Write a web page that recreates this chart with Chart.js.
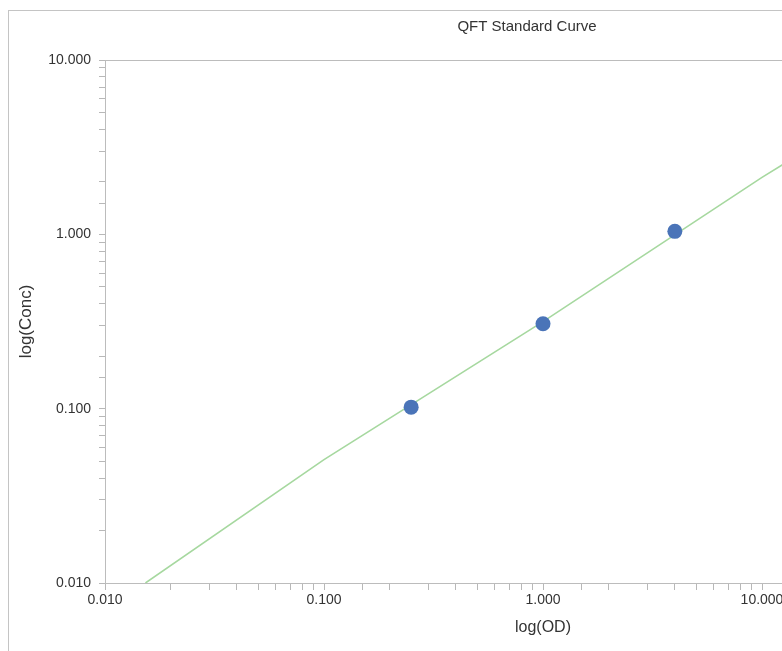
<!DOCTYPE html>
<html>
<head>
<meta charset="utf-8">
<script src="https://cdn.jsdelivr.net/npm/chart.js@4.4.1/dist/chart.umd.min.js"></script>
<style>
  html, body { margin: 0; padding: 0; overflow: hidden; background: #fff; }
  body { width: 782px; height: 651px; position: relative; }
  #frame { position: absolute; left: 8px; top: 10px; width: 1100px; height: 800px; border: 1px solid #c4c4c4; }
  #wrap { position: absolute; left: 0; top: 0; width: 1020px; height: 651px; }
</style>
</head>
<body>
<div id="frame"></div>
<div id="wrap"><canvas id="myChart" width="1020" height="651"></canvas></div>
<script>
// standards (blue dots)
const standardOD = [0.25, 1.0, 4.0];
const standardConc = [0.102, 0.307, 1.04];

// fitted curve (green line)
const fitOD = [0.0153, 0.1, 1.0, 10.0, 13.0];
const fitConc = [0.01, 0.051, 0.316, 2.12, 2.6];

// decade tick labels
const xDecades = [0.01, 0.1, 1, 10, 100];
const xDecadeLabels = ['0.010', '0.100', '1.000', '10.000', '100.000'];
const yDecades = [0.01, 0.1, 1, 10];
const yDecadeLabels = ['0.010', '0.100', '1.000', '10.000'];

const FONT = "'Liberation Sans', Arial, sans-serif";

function decadeLabel(values, labels) {
    return function (v) {
        for (let i = 0; i < values.length; i++) {
            if (Math.abs(v - values[i]) < values[i] * 1e-6) return labels[i];
        }
        return '';
    };
}

// box round the plot area
const plotFrame = {
    id: 'plotFrame',
    afterDraw(chart) {
        const {ctx, chartArea: a} = chart;
        ctx.save();
        ctx.strokeStyle = '#bcbcbc';
        ctx.lineWidth = 1;
        ctx.strokeRect(Math.round(a.left) + 0.5, Math.round(a.top) + 0.5,
            Math.round(a.right - a.left), Math.round(a.bottom - a.top));
        ctx.restore();
    }
};

// title sits a bit left of the plot centre
const titleShift = {
    id: 'titleShift',
    afterLayout(chart) {
        if (chart.titleBlock) chart.titleBlock.right -= 32;
    }
};

const ctx = document.getElementById('myChart').getContext('2d');

const data = {
    datasets: [{
        label: 'Standards',
        data: standardOD.map((x, i) => ({x: x, y: standardConc[i]})),
        showLine: false,
        pointRadius: 7.5,
        pointHoverRadius: 7.5,
        backgroundColor: '#4a74b8',
        borderColor: '#4a74b8',
        borderWidth: 0
    },
    {
        label: 'Fit',
        data: fitOD.map((x, i) => ({x: x, y: fitConc[i]})),
        showLine: true,
        pointRadius: 0,
        borderColor: '#a6d89f',
        borderWidth: 1.6
    }]
};

const config = {
    type: 'scatter',
    data: data,
    plugins: [plotFrame, titleShift],
    options: {
        responsive: false,
        animation: false,
        devicePixelRatio: 1,
        layout: {
            padding: {left: 0, right: 39, top: 0, bottom: 0}
        },
        plugins: {
            legend: {display: false},
            tooltip: {enabled: false},
            title: {
                display: true,
                text: 'QFT Standard Curve',
                fullSize: false,
                color: '#333',
                font: {family: FONT, size: 15, weight: 'normal'},
                padding: {top: 18, bottom: 24}
            }
        },
        scales: {
            x: {
                type: 'logarithmic',
                min: 0.01,
                max: 100,
                border: {display: false},
                grid: {drawOnChartArea: false, drawTicks: true, tickLength: 7, color: '#b8b8b8'},
                ticks: {
                    autoSkip: false,
                    maxRotation: 0,
                    padding: 2,
                    color: '#333',
                    font: {family: FONT, size: 14},
                    callback: decadeLabel(xDecades, xDecadeLabels)
                },
                title: {
                    display: true,
                    text: 'log(OD)',
                    color: '#333',
                    font: {family: FONT, size: 16},
                    padding: {top: 0, bottom: 14}
                },
                afterFit(scale) { scale.height = 68; }
            },
            y: {
                type: 'logarithmic',
                min: 0.01,
                max: 10,
                border: {display: false},
                grid: {drawOnChartArea: false, drawTicks: true, tickLength: 6, color: '#b8b8b8'},
                ticks: {
                    autoSkip: false,
                    padding: 8,
                    color: '#333',
                    font: {family: FONT, size: 14},
                    callback: decadeLabel(yDecades, yDecadeLabels)
                },
                title: {
                    display: true,
                    text: 'log(Conc)',
                    color: '#333',
                    font: {family: FONT, size: 17},
                    padding: {top: 16, bottom: 0}
                },
                afterFit(scale) { scale.width = 105; }
            }
        }
    }
};

const myChart = new Chart(ctx, config);
</script>
</body>
</html>
